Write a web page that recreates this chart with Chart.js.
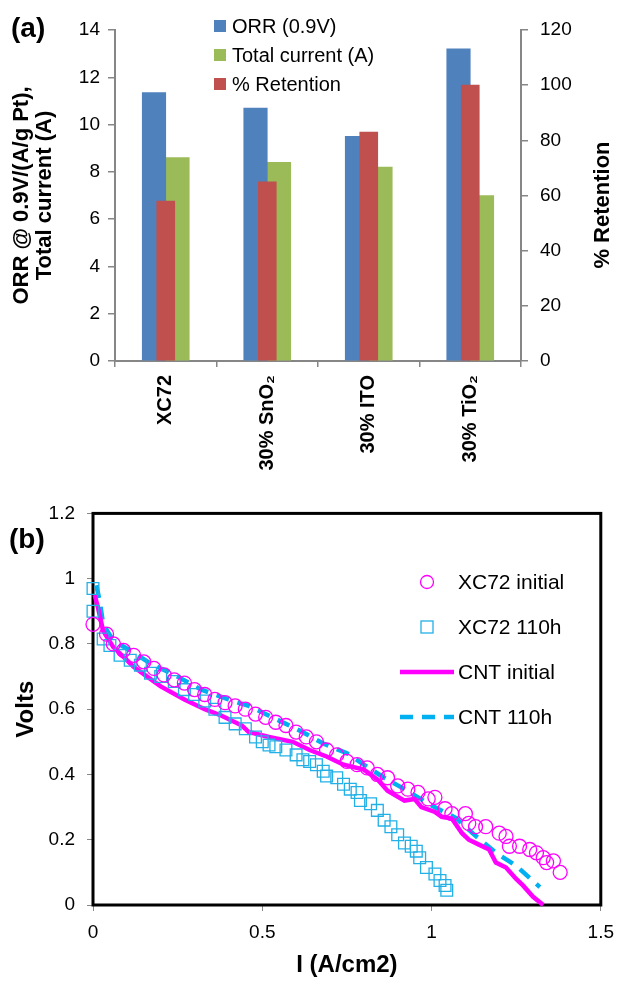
<!DOCTYPE html>
<html>
<head>
<meta charset="utf-8">
<script src="https://cdn.jsdelivr.net/npm/chart.js@4.4.1/dist/chart.umd.min.js"></script>
<style>
  body { margin: 0; background: #fff; }
  #wrap { position: relative; width: 624px; height: 982px; }
  canvas { position: absolute; left: 0; }
  #chartA { top: 0; }
  #chartB { top: 490px; }
</style>
</head>
<body>
<div id="wrap">
  <canvas id="chartA" width="624" height="490"></canvas>
  <canvas id="chartB" width="624" height="492"></canvas>
</div>
<script>
// ---- panel (a) data ----
const categories = ['XC72', '30% SnO\u2082', '30% ITO', '30% TiO\u2082'];
const orrValues = [11.35, 10.7, 9.5, 13.2];
const totalCurrent = [8.6, 8.4, 8.2, 7.0];
const retention = [58, 65, 83, 100];

// ---- panel (b) data: current density (A/cm2) and volts ----
const xc72InitI = [0.00, 0.04, 0.06, 0.09, 0.12, 0.15, 0.18, 0.21, 0.24, 0.27, 0.30, 0.33, 0.36, 0.39, 0.42, 0.45, 0.48, 0.51, 0.54, 0.57, 0.60, 0.63, 0.66, 0.69, 0.72, 0.75, 0.78, 0.81, 0.84, 0.87, 0.90, 0.93, 0.96, 0.99, 1.01, 1.04, 1.06, 1.10, 1.11, 1.13, 1.16, 1.20, 1.22, 1.23, 1.26, 1.29, 1.31, 1.33, 1.34, 1.36, 1.38];
const xc72InitV = [0.86, 0.83, 0.80, 0.78, 0.765, 0.745, 0.725, 0.705, 0.69, 0.68, 0.66, 0.645, 0.63, 0.62, 0.61, 0.60, 0.585, 0.575, 0.56, 0.55, 0.53, 0.515, 0.50, 0.475, 0.46, 0.44, 0.43, 0.42, 0.40, 0.39, 0.365, 0.355, 0.345, 0.325, 0.33, 0.295, 0.28, 0.28, 0.25, 0.24, 0.24, 0.22, 0.21, 0.18, 0.18, 0.17, 0.16, 0.145, 0.13, 0.135, 0.10];

const xc72AgedI = [0.00, 0.00, 0.03, 0.05, 0.08, 0.11, 0.14, 0.17, 0.20, 0.24, 0.27, 0.30, 0.33, 0.36, 0.39, 0.42, 0.45, 0.48, 0.50, 0.52, 0.54, 0.57, 0.60, 0.62, 0.64, 0.66, 0.68, 0.69, 0.72, 0.74, 0.76, 0.78, 0.79, 0.82, 0.84, 0.86, 0.88, 0.90, 0.92, 0.94, 0.955, 0.965, 0.985, 1.01, 1.025, 1.04, 1.045];
const xc72AgedV = [0.97, 0.90, 0.815, 0.795, 0.765, 0.75, 0.735, 0.71, 0.70, 0.685, 0.66, 0.645, 0.625, 0.60, 0.575, 0.555, 0.54, 0.515, 0.50, 0.49, 0.485, 0.475, 0.46, 0.445, 0.44, 0.43, 0.41, 0.395, 0.39, 0.37, 0.355, 0.345, 0.32, 0.31, 0.29, 0.26, 0.24, 0.215, 0.19, 0.18, 0.165, 0.145, 0.115, 0.095, 0.075, 0.06, 0.045];

const cntInitI = [0.005, 0.015, 0.03, 0.06, 0.09, 0.12, 0.16, 0.20, 0.27, 0.33, 0.38, 0.44, 0.46, 0.52, 0.59, 0.64, 0.69, 0.74, 0.80, 0.84, 0.87, 0.92, 0.95, 0.97, 1.01, 1.03, 1.06, 1.09, 1.11, 1.14, 1.17, 1.19, 1.22, 1.25, 1.27, 1.30, 1.33];
const cntInitV = [0.95, 0.91, 0.84, 0.79, 0.76, 0.73, 0.70, 0.67, 0.63, 0.60, 0.58, 0.55, 0.53, 0.515, 0.50, 0.475, 0.455, 0.43, 0.415, 0.385, 0.35, 0.32, 0.325, 0.30, 0.285, 0.27, 0.265, 0.22, 0.20, 0.185, 0.17, 0.13, 0.115, 0.08, 0.06, 0.025, 0.0];

const cntAgedI = [0.01, 0.02, 0.03, 0.06, 0.11, 0.17, 0.24, 0.32, 0.40, 0.46, 0.53, 0.61, 0.68, 0.75, 0.80, 0.86, 0.92, 1.00, 1.07, 1.13, 1.19, 1.25, 1.32];
const cntAgedV = [0.98, 0.93, 0.86, 0.81, 0.78, 0.74, 0.705, 0.66, 0.63, 0.61, 0.575, 0.535, 0.495, 0.465, 0.43, 0.39, 0.355, 0.305, 0.268, 0.212, 0.16, 0.12, 0.055];

const FONT = '"Liberation Sans", Arial, sans-serif';
Chart.defaults.font.family = FONT;
Chart.defaults.color = '#000';

const pts = (xs, ys) => xs.map((x, i) => ({ x: x, y: ys[i] }));
const plainNum = v => String(Number(v.toFixed(2))); // 1.0 -> "1", 0.0 -> "0"

// extra drawing for panel (a): label, right axis title, legend
const panelA = {
    id: 'panelA',
    afterDraw(chart) {
        const ctx = chart.ctx;
        ctx.save();
        ctx.fillStyle = '#000';
        ctx.font = 'bold 28px ' + FONT;
        ctx.textBaseline = 'alphabetic';
        ctx.fillText('(a)', 11, 37);

        // right axis title reads bottom to top
        ctx.save();
        ctx.font = 'bold 22px ' + FONT;
        ctx.translate(603, 205);
        ctx.rotate(-Math.PI / 2);
        ctx.textAlign = 'center';
        ctx.textBaseline = 'middle';
        ctx.fillText('% Retention', 0, 0);
        ctx.restore();

        // legend
        ctx.font = '20px ' + FONT;
        ctx.textBaseline = 'middle';
        chart.data.datasets.forEach((ds, i) => {
            const y = 26 + i * 29;
            ctx.fillStyle = ds.backgroundColor;
            ctx.fillRect(214, y - 6, 12, 12);
            ctx.fillStyle = '#000';
            ctx.fillText(ds.label, 232, y + 1);
        });
        ctx.restore();
    }
};

// extra drawing for panel (b): frame, label, legend
const panelB = {
    id: 'panelB',
    beforeDatasetsDraw(chart) {
        const a = chart.chartArea;
        const ctx = chart.ctx;
        ctx.save();
        ctx.strokeStyle = '#000';
        ctx.lineWidth = 3;
        ctx.strokeRect(a.left, a.top, a.right - a.left, a.bottom - a.top);
        ctx.restore();
    },
    afterDraw(chart) {
        const ctx = chart.ctx;
        ctx.save();
        ctx.fillStyle = '#000';
        ctx.font = 'bold 28px ' + FONT;
        ctx.fillText('(b)', 9, 58);

        ctx.font = '21px ' + FONT;
        ctx.textBaseline = 'middle';
        chart.data.datasets.forEach((ds, i) => {
            const y = 92 + i * 45;
            ctx.save();
            if (ds.showLine) {
                ctx.strokeStyle = ds.borderColor;
                ctx.lineWidth = ds.borderWidth;
                ctx.setLineDash(ds.borderDash || []);
                ctx.beginPath();
                ctx.moveTo(400, y);
                ctx.lineTo(454, y);
                ctx.stroke();
            } else if (ds.pointStyle === 'circle') {
                ctx.strokeStyle = ds.pointBorderColor;
                ctx.lineWidth = 1.3;
                ctx.beginPath();
                ctx.arc(427, y, 6.5, 0, Math.PI * 2);
                ctx.stroke();
            } else {
                ctx.strokeStyle = ds.pointBorderColor;
                ctx.lineWidth = 1.3;
                ctx.strokeRect(421, y - 6, 12, 12);
            }
            ctx.restore();
            ctx.fillText(ds.label, 458, y + 1);
        });
        ctx.restore();
    }
};

new Chart(document.getElementById('chartA'), {
    type: 'bar',
    data: {
        labels: categories,
        datasets: [
            { label: 'ORR (0.9V)', data: orrValues, backgroundColor: '#4F81BD', yAxisID: 'y', barThickness: 23.5 },
            { label: 'Total current (A)', data: totalCurrent, backgroundColor: '#9BBB59', yAxisID: 'y', barThickness: 23.5 },
            { label: '% Retention', data: retention, backgroundColor: '#C0504D', yAxisID: 'y1', barThickness: 18, grouped: false, order: -1 }
        ]
    },
    options: {
        responsive: false,
        animation: false,
        layout: { padding: { top: 30, right: 0, bottom: 0, left: 0 } },
        plugins: { legend: { display: false }, tooltip: { enabled: false } },
        scales: {
            x: {
                grid: { drawOnChartArea: false, color: '#868686', tickLength: 6, offset: true, lineWidth: 1.5 },
                border: { color: '#868686', width: 2 },
                ticks: { font: { size: 20, weight: 'bold' }, minRotation: 90, maxRotation: 90, padding: 8, autoSkip: false },
                afterFit: s => { s.height = 129; }
            },
            y: {
                position: 'left',
                min: 0,
                max: 14,
                ticks: { stepSize: 2, font: { size: 19 }, padding: 8 },
                grid: { drawOnChartArea: false, color: '#868686', tickLength: 7, lineWidth: 1.5 },
                border: { color: '#868686', width: 2 },
                title: {
                    display: true,
                    text: ['ORR @ 0.9V/(A/g Pt),', 'Total current (A)'],
                    font: { size: 22, weight: 'bold', lineHeight: 1.05 },
                    padding: { top: 10, bottom: 0 }
                },
                afterFit: s => { s.width = 115; }
            },
            y1: {
                position: 'right',
                min: 0,
                max: 120,
                ticks: { stepSize: 20, font: { size: 19 }, padding: 12 },
                grid: { drawOnChartArea: false, color: '#868686', tickLength: 7, lineWidth: 1.5 },
                border: { color: '#868686', width: 2 },
                afterFit: s => { s.width = 103; }
            }
        }
    },
    plugins: [panelA]
});

new Chart(document.getElementById('chartB'), {
    type: 'scatter',
    data: {
        datasets: [
            {
                label: 'XC72 initial', data: pts(xc72InitI, xc72InitV),
                pointStyle: 'circle', pointRadius: 7, pointBorderWidth: 1.3,
                pointBorderColor: '#FF00FF', pointBackgroundColor: 'rgba(0,0,0,0)',
                showLine: false, clip: false
            },
            {
                label: 'XC72 110h', data: pts(xc72AgedI, xc72AgedV),
                pointStyle: 'rect', pointRadius: 8.3, pointBorderWidth: 1.3,
                pointBorderColor: '#22B0E6', pointBackgroundColor: 'rgba(0,0,0,0)',
                showLine: false, clip: false
            },
            {
                label: 'CNT initial', data: pts(cntInitI, cntInitV),
                showLine: true, borderColor: '#FF00FF', borderWidth: 4.5,
                pointRadius: 0, tension: 0, clip: false
            },
            {
                label: 'CNT 110h', data: pts(cntAgedI, cntAgedV),
                showLine: true, borderColor: '#00B0F0', borderWidth: 4.5, borderDash: [13, 9],
                pointRadius: 0, tension: 0, clip: false
            }
        ]
    },
    options: {
        responsive: false,
        animation: false,
        layout: { padding: { top: 20, right: 15, bottom: 0, left: 0 } },
        plugins: { legend: { display: false }, tooltip: { enabled: false } },
        scales: {
            x: {
                type: 'linear',
                min: 0,
                max: 1.5,
                ticks: { stepSize: 0.5, font: { size: 19 }, padding: 10, callback: plainNum },
                grid: { drawOnChartArea: false, color: '#888', tickLength: 6 },
                border: { display: false },
                title: { display: true, text: 'I (A/cm2)', font: { size: 24, weight: 'bold' }, padding: { top: 0, bottom: 2 } },
                afterFit: s => { s.height = 77; }
            },
            y: {
                min: 0,
                max: 1.2,
                ticks: { stepSize: 0.2, font: { size: 19 }, padding: 12, callback: plainNum },
                grid: { drawOnChartArea: false, color: '#888', tickLength: 6 },
                border: { display: false },
                title: { display: true, text: 'Volts', font: { size: 24, weight: 'bold' }, padding: { top: 12, bottom: 0 } },
                afterFit: s => { s.width = 93; }
            }
        }
    },
    plugins: [panelB]
});
</script>
</body>
</html>
